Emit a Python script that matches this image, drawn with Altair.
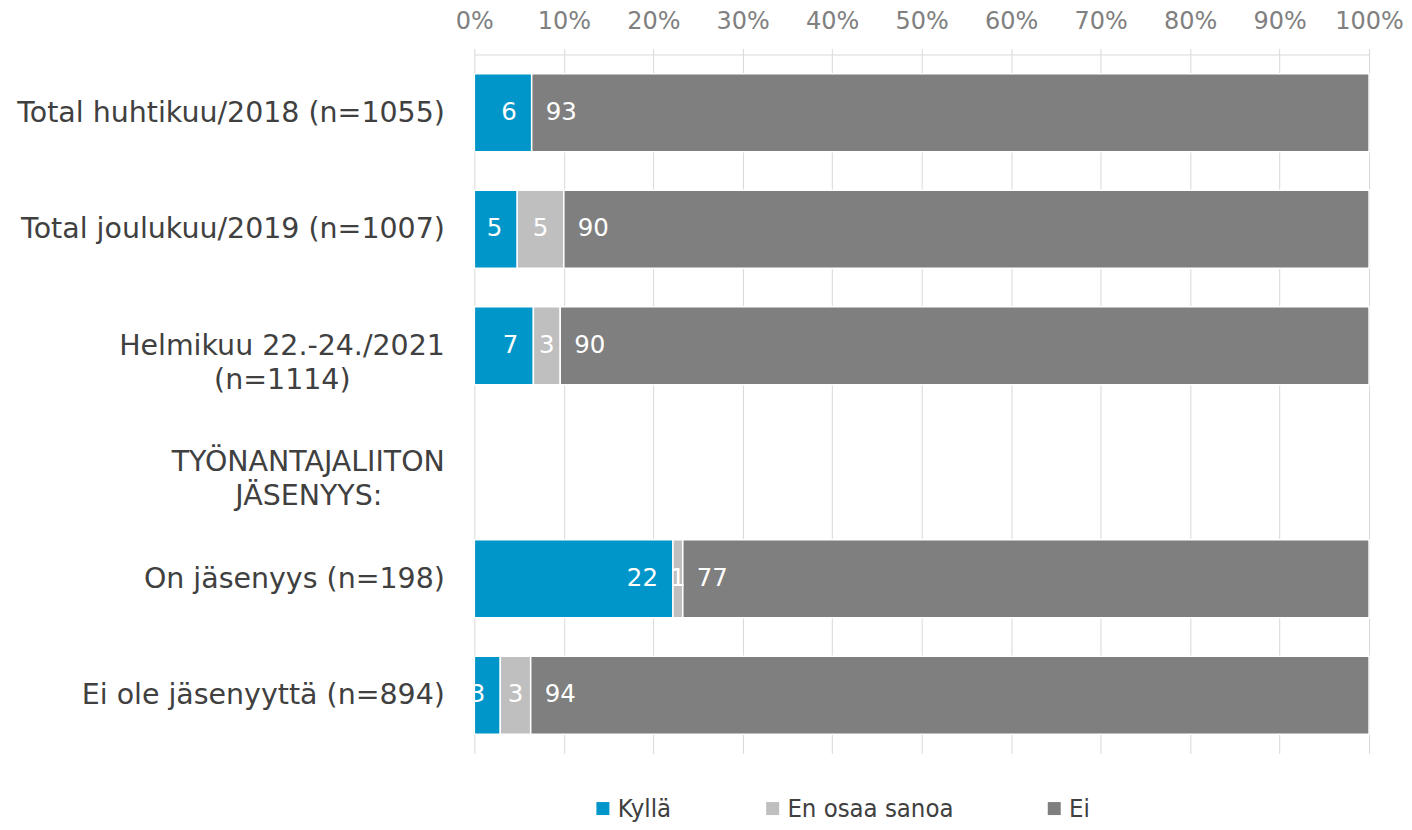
import json
import altair as alt
import pandas as pd

# ---- data ----
categories = [
    "Total huhtikuu/2018 (n=1055)",
    "Total joulukuu/2019 (n=1007)",
    "Helmikuu 22.-24./2021|(n=1114)",
    "TYÖNANTAJALIITON|JÄSENYYS:",
    "On jäsenyys (n=198)",
    "Ei ole jäsenyyttä (n=894)",
]
bar_categories = [
    "Total huhtikuu/2018 (n=1055)",
    "Total joulukuu/2019 (n=1007)",
    "Helmikuu 22.-24./2021|(n=1114)",
    "On jäsenyys (n=198)",
    "Ei ole jäsenyyttä (n=894)",
]
series = ["Kyllä", "En osaa sanoa", "Ei"]
kylla = [6.4, 4.8, 6.6, 22.2, 2.9]
en_osaa = [0.0, 5.2, 3.0, 1.1, 3.4]
ei = [93.4, 90.0, 90.4, 76.7, 93.7]
tick_values = [0.0, 0.1, 0.2, 0.3, 0.4, 0.5, 0.6, 0.7, 0.8, 0.9, 1.0]

colors = ["#0096c9", "#bfbfbf", "#7f7f7f"]

rows = []
for i, cat in enumerate(bar_categories):
    for j, (s, vals) in enumerate(zip(series, [kylla, en_osaa, ei])):
        rows.append({"cat": cat, "series": s, "order": j, "value": vals[i]})
df = pd.DataFrame(rows)

# ---- multi-line category labels, second line centred under the first ----
EN = "\u2002"
NB = "\u00a0"
TH = "\u2009"
WJ = "\u2060"
line_pad = {"(n=1114)": EN * 6 + NB + WJ, "JÄSENYYS:": EN * 4 + TH + WJ}
expr = "datum.value"
for c in categories:
    if "|" in c:
        lines = [ln + line_pad.get(ln, "") for ln in c.split("|")]
        expr = f"datum.value == {json.dumps(c, ensure_ascii=False)} ? {json.dumps(lines, ensure_ascii=False)} : ({expr})"

FONT = "DejaVu Sans"
GRID = "#d9d9d9"

base = alt.Chart(df).transform_stack(
    stack="value",
    groupby=["cat"],
    as_=["x0", "x1"],
    offset="normalize",
    sort=[alt.SortField("order", order="ascending")],
).transform_calculate(
    mid="(datum.x0 + datum.x1) / 2",
    lab="format(datum.value, '.0f')",
)

y_enc = alt.Y(
    "cat:N",
    scale=alt.Scale(domain=categories, paddingInner=0.33, paddingOuter=0.165),
    axis=alt.Axis(
        title=None,
        orient="left",
        domain=False,
        ticks=False,
        labelPadding=30,
        labelFontSize=28.5,
        labelFont=FONT,
        labelColor="#404040",
        labelLineHeight=34,
        labelLimit=700,
        labelExpr=expr,
    ),
)

x_scale = alt.Scale(domain=[0, 1], nice=False)

bars = base.mark_bar(stroke="white", strokeWidth=1.5).encode(
    x=alt.X(
        "x0:Q",
        scale=x_scale,
        axis=alt.Axis(
            orient="top",
            title=None,
            format="%",
            values=tick_values,
            grid=True,
            gridColor=GRID,
            gridWidth=1,
            domainColor=GRID,
            tickColor=GRID,
            tickSize=6,
            labelFontSize=24,
            labelFont=FONT,
            labelColor="#808080",
            labelPadding=15,
            labelFlush=False,
        ),
    ),
    x2="x1:Q",
    y=y_enc,
    color=alt.Color(
        "series:N",
        scale=alt.Scale(domain=series, range=colors),
        legend=alt.Legend(
            title=None,
            orient="none",
            legendX=116,
            legendY=742,
            direction="horizontal",
            symbolType="square",
            symbolSize=169,
            symbolStrokeWidth=0,
            labelFontSize=25.5,
            labelFont="DejaVu Sans Condensed, Liberation Sans Narrow, DejaVu Sans",
            labelColor="#404040",
            labelOffset=2,
            labelLimit=400,
            columnPadding=88,
            padding=0,
        ),
    ),
)

text_style = dict(color="white", fontSize=24.5, font=FONT, baseline="middle")

lab_k = base.transform_filter(
    "datum.series == 'Kyllä' && datum.value >= 0.5"
).mark_text(align="right", dx=-15, clip=True, **text_style).encode(
    x=alt.X("x1:Q", scale=x_scale), y=alt.Y("cat:N"), text="lab:N"
)
lab_e = base.transform_filter(
    "datum.series == 'En osaa sanoa' && datum.value >= 0.5"
).mark_text(align="center", **text_style).encode(
    x=alt.X("mid:Q", scale=x_scale), y=alt.Y("cat:N"), text="lab:N"
)
lab_n = base.transform_filter(
    "datum.series == 'Ei' && datum.value >= 0.5"
).mark_text(align="left", dx=14, **text_style).encode(
    x=alt.X("x0:Q", scale=x_scale), y=alt.Y("cat:N"), text="lab:N"
)

chart = alt.layer(bars, lab_k, lab_e, lab_n).properties(
    width=896,
    height=700,
    autosize=alt.AutoSizeParams(type="none"),
    padding={"left": 467, "top": 46, "right": 35, "bottom": 68},
    background="white",
).configure_view(stroke=None)

chart.save("out.html", embed_options={"renderer": "svg", "actions": False})
